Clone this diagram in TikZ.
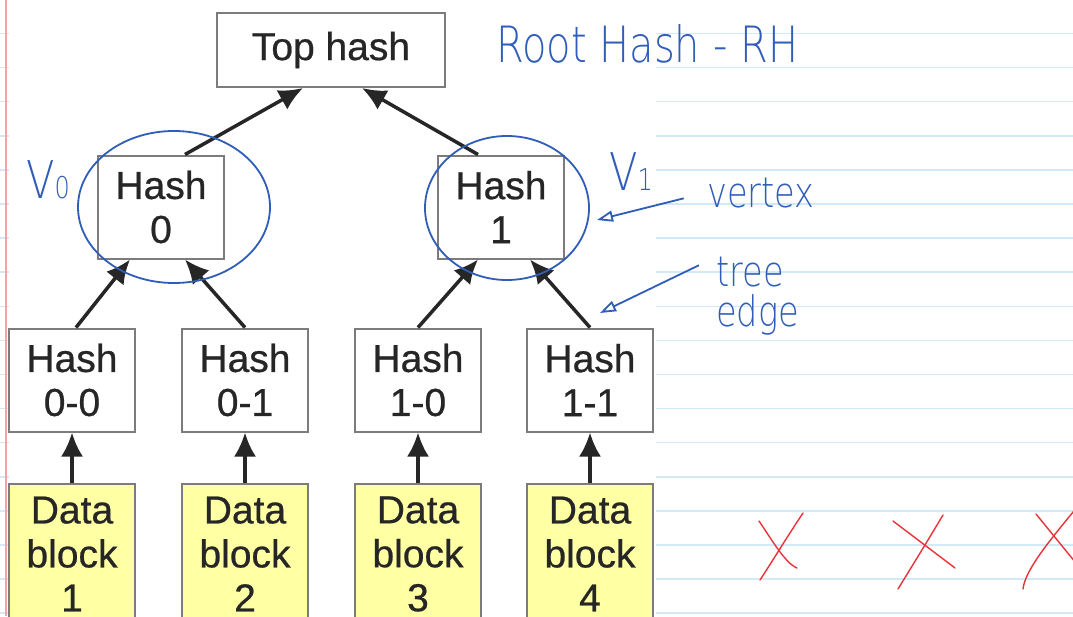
\documentclass[tikz,border=0pt]{standalone}
\usepackage{fontspec}
\setmainfont{Liberation Sans}[FakeBold=0.6]
\IfFontExistsTF{DejaVu Sans ExtraLight}
  {\newfontfamily\hand{DejaVu Sans ExtraLight}[FakeStretch=0.8]}
  {\newfontfamily\hand{DejaVu Sans}[FakeStretch=0.8]}
\usetikzlibrary{arrows.meta, shapes.geometric}
\definecolor{cline}{HTML}{D2EAF8}
\definecolor{cmargin}{HTML}{F3A3A3}
\definecolor{cpen}{HTML}{2F5DB8}
\definecolor{cred}{HTML}{E8333A}
\definecolor{cyellow}{HTML}{FFFFA3}
\definecolor{cbox}{HTML}{7C7C7C}
\tikzset{
  ruled/.style={draw=cline, line width=1.5pt},
  margin/.style={draw=cmargin, line width=1.5pt},
  hbox/.style={draw=cbox, line width=2pt, fill=white, align=center, inner sep=0pt,
               minimum width=126pt, minimum height=103pt, text=black!85,
               font=\fontsize{39}{44}\selectfont},
  dbox/.style={hbox, fill=cyellow, minimum height=140pt},
  up/.style={-{Latex[length=24pt, width=22pt]}, line width=3.5pt, draw=black!85},
  pen/.style={draw=cpen, line width=1.8pt},
  penarrow/.style={pen, -{Triangle[open, length=16pt, width=11pt]}, line join=round},
  ring/.style={pen, ellipse, inner sep=0pt},
  hw/.style={text=cpen, inner sep=0pt, font=\hand\fontsize{#1}{#1}\selectfont},
  hw/.default=42,
  redpen/.style={draw=cred, line width=1.4pt, line cap=round},
}
\begin{document}
\begin{tikzpicture}[x=1pt, y=-1pt]
  \useasboundingbox (0,0) rectangle (1073,616);
  \clip (0,0) rectangle (1073,616);
  % ruled notebook page
  \fill[white] (0,0) rectangle (1073,616);
  \foreach \k in {-1,...,17} \draw[ruled] (0,33.5+34.1*\k) -- (1073,33.5+34.1*\k);
  \draw[margin] (6,0) -- (6,616);
  \fill[white] (9,2) rectangle (656,616);
  % the pasted merkle tree
  \node[hbox, minimum width=228pt, minimum height=74pt] (top) at (331,50) {Top hash};
  \node[hbox] (h0) at (161,207) {Hash\\0};
  \node[hbox] (h1) at (501,207) {Hash\\1};
  \node[hbox] (h00) at (72,380) {Hash\\0-0};
  \node[hbox] (h01) at (245,380) {Hash\\0-1};
  \node[hbox] (h10) at (418,380) {Hash\\1-0};
  \node[hbox] (h11) at (590,380) {Hash\\1-1};
  \foreach \i/\x in {1/72,2/245,3/418,4/590}
    \node[dbox] (d\i) at (\x,554) {Data\\block\\\i};
  \foreach \i/\h in {1/h00,2/h01,3/h10,4/h11} \draw[up] (d\i) -- (\h);
  \draw[up] ([xshift=24pt]h0.north) -- ([xshift=-28pt]top.south);
  \draw[up] ([xshift=-23pt]h1.north) -- ([xshift=31pt]top.south);
  \draw[up] ([xshift=4pt]h00.north) -- ([xshift=-31pt]h0.south);
  \draw[up] (h01.north) -- ([xshift=24pt]h0.south);
  \draw[up] (h10.north) -- ([xshift=-23pt]h1.south);
  \draw[up] (h11.north) -- ([xshift=29pt]h1.south);
  % handwritten notes
  \node[hw=50, anchor=base west] (rh) at (496,62) {Root Hash - RH};
  \node[ring, minimum width=192pt, minimum height=152pt] (r0) at (174,207) {};
  \node[ring, minimum width=164pt, minimum height=144pt] (r1) at (507,208) {};
  \node[hw=52, anchor=base west] (v0) at (26,198) {V{\fontsize{30}{30}\selectfont 0}};
  \node[hw=52, anchor=base west] (v1) at (609,190) {V{\fontsize{30}{30}\selectfont 1}};
  \node[hw, anchor=base west] (vx) at (707,207) {vertex};
  \node[hw, align=left, anchor=north west, font=\hand\fontsize{42}{40}\selectfont] (te) at (716,257) {tree\\edge};
  \coordinate (vtip) at (597,220);
  \coordinate (etip) at (600,313);
  \draw[penarrow, shorten <=24pt] (vx.west) -- (vtip);
  \draw[penarrow, shorten <=19pt] (te.north west) -- (etip);
  % red crosses
  \draw[redpen] (759,521) .. controls (772,540) and (785,563) .. (797,568);
  \draw[redpen] (803,513) .. controls (785,540) and (770,565) .. (760,580);
  \draw[redpen] (893,521) -- (955,568);
  \draw[redpen] (943,515) .. controls (925,545) .. (898,589);
  \draw[redpen] (1036,514) -- (1080,568);
  \draw[redpen] (1078,506) .. controls (1050,540) and (1025,570) .. (1023,589);
\end{tikzpicture}
\end{document}
